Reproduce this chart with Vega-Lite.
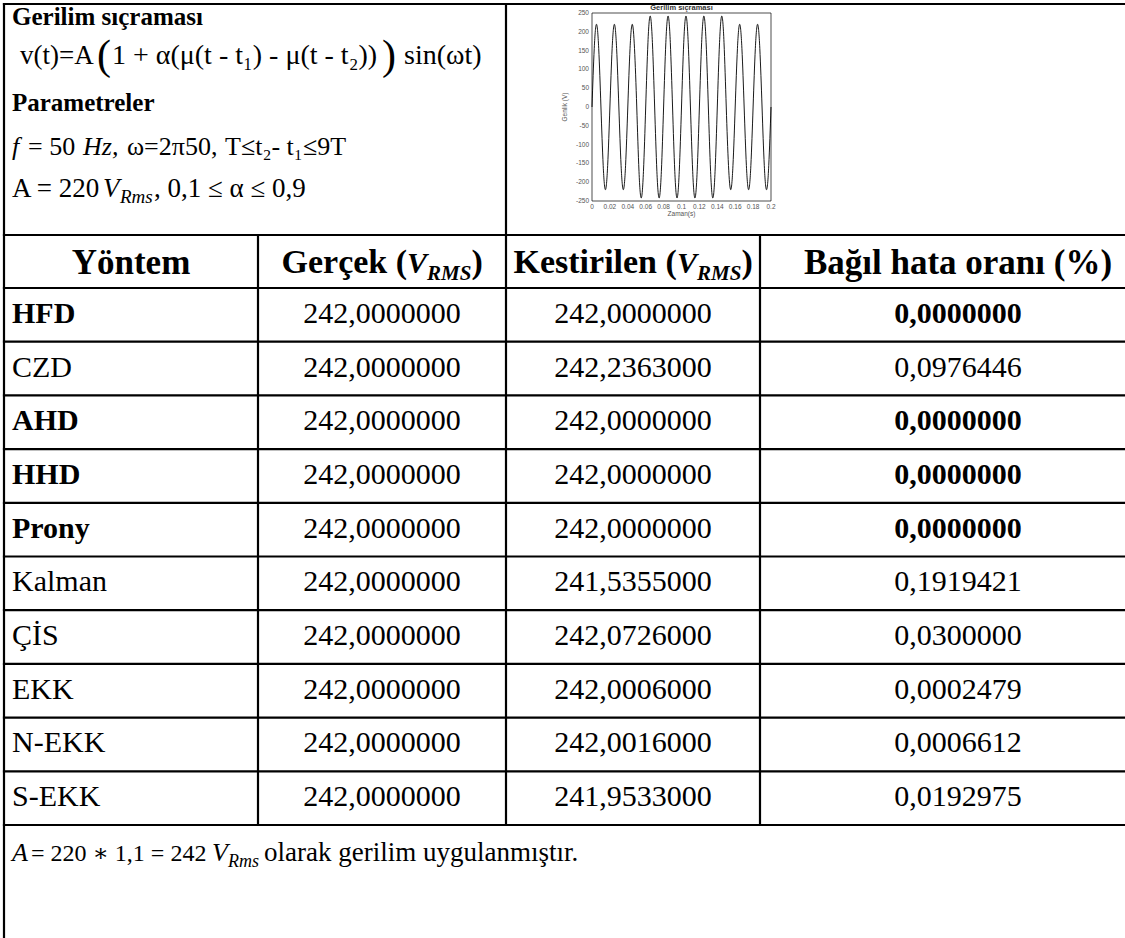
{
  "$schema": "https://vega.github.io/schema/vega-lite/v6.json",
  "width": 1125,
  "height": 938,
  "padding": 0,
  "autosize": {"type": "none"},
  "background": "#ffffff",
  "config": {
    "view": {"stroke": null},
    "axis": {"disable": true},
    "legend": {"disable": true}
  },
  "datasets": {
    "lines": [
      {"x1": 0.5, "x2": 4.5, "y1": -1.5, "y2": -1.5},
      {"x1": 0.5, "x2": 4.5, "y1": -0.5, "y2": -0.5},
      {"x1": 0.5, "x2": 4.5, "y1": 0.5, "y2": 0.5},
      {"x1": 0.5, "x2": 4.5, "y1": 1.5, "y2": 1.5},
      {"x1": 0.5, "x2": 4.5, "y1": 2.5, "y2": 2.5},
      {"x1": 0.5, "x2": 4.5, "y1": 3.5, "y2": 3.5},
      {"x1": 0.5, "x2": 4.5, "y1": 4.5, "y2": 4.5},
      {"x1": 0.5, "x2": 4.5, "y1": 5.5, "y2": 5.5},
      {"x1": 0.5, "x2": 4.5, "y1": 6.5, "y2": 6.5},
      {"x1": 0.5, "x2": 4.5, "y1": 7.5, "y2": 7.5},
      {"x1": 0.5, "x2": 4.5, "y1": 8.5, "y2": 8.5},
      {"x1": 0.5, "x2": 4.5, "y1": 9.5, "y2": 9.5},
      {"x1": 0.5, "x2": 4.5, "y1": 10.5, "y2": 10.5},
      {"x1": 0.5, "x2": 0.5, "y1": -1.5, "y2": 13},
      {"x1": 1.5, "x2": 1.5, "y1": -0.5, "y2": 10.5},
      {"x1": 2.5, "x2": 2.5, "y1": -1.5, "y2": 10.5},
      {"x1": 3.5, "x2": 3.5, "y1": -0.5, "y2": 10.5}
    ],
    "cells": [
      {"row": 1, "col": 1, "text": "HFD", "bold": true},
      {"row": 1, "col": 2, "text": "242,0000000", "bold": false},
      {"row": 1, "col": 3, "text": "242,0000000", "bold": false},
      {"row": 1, "col": 4, "text": "0,0000000", "bold": true},
      {"row": 2, "col": 1, "text": "CZD", "bold": false},
      {"row": 2, "col": 2, "text": "242,0000000", "bold": false},
      {"row": 2, "col": 3, "text": "242,2363000", "bold": false},
      {"row": 2, "col": 4, "text": "0,0976446", "bold": false},
      {"row": 3, "col": 1, "text": "AHD", "bold": true},
      {"row": 3, "col": 2, "text": "242,0000000", "bold": false},
      {"row": 3, "col": 3, "text": "242,0000000", "bold": false},
      {"row": 3, "col": 4, "text": "0,0000000", "bold": true},
      {"row": 4, "col": 1, "text": "HHD", "bold": true},
      {"row": 4, "col": 2, "text": "242,0000000", "bold": false},
      {"row": 4, "col": 3, "text": "242,0000000", "bold": false},
      {"row": 4, "col": 4, "text": "0,0000000", "bold": true},
      {"row": 5, "col": 1, "text": "Prony", "bold": true},
      {"row": 5, "col": 2, "text": "242,0000000", "bold": false},
      {"row": 5, "col": 3, "text": "242,0000000", "bold": false},
      {"row": 5, "col": 4, "text": "0,0000000", "bold": true},
      {"row": 6, "col": 1, "text": "Kalman", "bold": false},
      {"row": 6, "col": 2, "text": "242,0000000", "bold": false},
      {"row": 6, "col": 3, "text": "241,5355000", "bold": false},
      {"row": 6, "col": 4, "text": "0,1919421", "bold": false},
      {"row": 7, "col": 1, "text": "ÇİS", "bold": false},
      {"row": 7, "col": 2, "text": "242,0000000", "bold": false},
      {"row": 7, "col": 3, "text": "242,0726000", "bold": false},
      {"row": 7, "col": 4, "text": "0,0300000", "bold": false},
      {"row": 8, "col": 1, "text": "EKK", "bold": false},
      {"row": 8, "col": 2, "text": "242,0000000", "bold": false},
      {"row": 8, "col": 3, "text": "242,0006000", "bold": false},
      {"row": 8, "col": 4, "text": "0,0002479", "bold": false},
      {"row": 9, "col": 1, "text": "N-EKK", "bold": false},
      {"row": 9, "col": 2, "text": "242,0000000", "bold": false},
      {"row": 9, "col": 3, "text": "242,0016000", "bold": false},
      {"row": 9, "col": 4, "text": "0,0006612", "bold": false},
      {"row": 10, "col": 1, "text": "S-EKK", "bold": false},
      {"row": 10, "col": 2, "text": "242,0000000", "bold": false},
      {"row": 10, "col": 3, "text": "241,9533000", "bold": false},
      {"row": 10, "col": 4, "text": "0,0192975", "bold": false}
    ],
    "header": [
      {"col": 1, "piece": "main", "label": "Yöntem"},
      {"col": 4, "piece": "main", "label": "Bağıl hata oranı (%)"},
      {"col": 2, "piece": "pre", "label": "Gerçek ("},
      {"col": 3, "piece": "pre", "label": "Kestirilen ("},
      {"col": 2, "piece": "v", "label": "V"},
      {"col": 3, "piece": "v", "label": "V"},
      {"col": 2, "piece": "sub", "label": "RMS"},
      {"col": 3, "piece": "sub", "label": "RMS"},
      {"col": 2, "piece": "close", "label": ")"},
      {"col": 3, "piece": "close", "label": ")"}
    ],
    "footer": [
      {"piece": "A", "label": "A"},
      {"piece": "eq", "label": "= 220 ∗ 1,1 = 242"},
      {"piece": "v", "label": "V"},
      {"piece": "sub", "label": "Rms"},
      {"piece": "txt", "label": "olarak gerilim uygulanmıştır."}
    ],
    "topleft": [
      {"line": 1, "piece": "bold", "label": "Gerilim sıçraması"},
      {"line": 2, "piece": "f1", "label": "v(t)=A"},
      {"line": 2, "piece": "big1", "label": "("},
      {"line": 2, "piece": "f2", "label": "1 + α(μ(t - t₁) - μ(t - t₂))"},
      {"line": 2, "piece": "big2", "label": ")"},
      {"line": 2, "piece": "f3", "label": "sin(ωt)"},
      {"line": 3, "piece": "bold", "label": "Parametreler"},
      {"line": 4, "piece": "p1", "label": "f"},
      {"line": 4, "piece": "p2", "label": "= 50"},
      {"line": 4, "piece": "p3", "label": "Hz,"},
      {"line": 4, "piece": "p4", "label": "ω=2π50,"},
      {"line": 4, "piece": "p5", "label": "T≤t₂- t₁≤9T"},
      {"line": 5, "piece": "q1", "label": "A = 220"},
      {"line": 5, "piece": "q2", "label": "V"},
      {"line": 5, "piece": "q3", "label": "Rms"},
      {"line": 5, "piece": "q4", "label": " , 0,1 ≤ α ≤ 0,9"}
    ],
    "wave": [
      {"t": 0, "v": 0}, {"t": 0.0025, "v": 155.56}, {"t": 0.005, "v": 220}, {"t": 0.0075, "v": 155.56},
      {"t": 0.01, "v": 0}, {"t": 0.0125, "v": -155.56}, {"t": 0.015, "v": -220}, {"t": 0.0175, "v": -155.56},
      {"t": 0.02, "v": 0}, {"t": 0.0225, "v": 155.56}, {"t": 0.025, "v": 220}, {"t": 0.0275, "v": 155.56},
      {"t": 0.03, "v": 0}, {"t": 0.0325, "v": -155.56}, {"t": 0.035, "v": -220}, {"t": 0.0375, "v": -155.56},
      {"t": 0.04, "v": 0}, {"t": 0.0425, "v": 155.56}, {"t": 0.045, "v": 220}, {"t": 0.0475, "v": 155.56},
      {"t": 0.05, "v": 0}, {"t": 0.0525, "v": -171.12}, {"t": 0.055, "v": -242}, {"t": 0.0575, "v": -171.12},
      {"t": 0.06, "v": 0}, {"t": 0.0625, "v": 171.12}, {"t": 0.065, "v": 242}, {"t": 0.0675, "v": 171.12},
      {"t": 0.07, "v": 0}, {"t": 0.0725, "v": -171.12}, {"t": 0.075, "v": -242}, {"t": 0.0775, "v": -171.12},
      {"t": 0.08, "v": 0}, {"t": 0.0825, "v": 171.12}, {"t": 0.085, "v": 242}, {"t": 0.0875, "v": 171.12},
      {"t": 0.09, "v": 0}, {"t": 0.0925, "v": -171.12}, {"t": 0.095, "v": -242}, {"t": 0.0975, "v": -171.12},
      {"t": 0.1, "v": 0}, {"t": 0.1025, "v": 171.12}, {"t": 0.105, "v": 242}, {"t": 0.1075, "v": 171.12},
      {"t": 0.11, "v": 0}, {"t": 0.1125, "v": -171.12}, {"t": 0.115, "v": -242}, {"t": 0.1175, "v": -171.12},
      {"t": 0.12, "v": 0}, {"t": 0.1225, "v": 171.12}, {"t": 0.125, "v": 242}, {"t": 0.1275, "v": 171.12},
      {"t": 0.13, "v": 0}, {"t": 0.1325, "v": -171.12}, {"t": 0.135, "v": -242}, {"t": 0.1375, "v": -171.12},
      {"t": 0.14, "v": 0}, {"t": 0.1425, "v": 171.12}, {"t": 0.145, "v": 242}, {"t": 0.1475, "v": 171.12},
      {"t": 0.15, "v": 0}, {"t": 0.1525, "v": -155.56}, {"t": 0.155, "v": -220}, {"t": 0.1575, "v": -155.56},
      {"t": 0.16, "v": 0}, {"t": 0.1625, "v": 155.56}, {"t": 0.165, "v": 220}, {"t": 0.1675, "v": 155.56},
      {"t": 0.17, "v": 0}, {"t": 0.1725, "v": -155.56}, {"t": 0.175, "v": -220}, {"t": 0.1775, "v": -155.56},
      {"t": 0.18, "v": 0}, {"t": 0.1825, "v": 155.56}, {"t": 0.185, "v": 220}, {"t": 0.1875, "v": 155.56},
      {"t": 0.19, "v": 0}, {"t": 0.1925, "v": -155.56}, {"t": 0.195, "v": -220}, {"t": 0.1975, "v": -155.56},
      {"t": 0.2, "v": 0}
    ],
    "frame": [{"t0": 0, "t1": 0.2, "v0": -250, "v1": 250}],
    "xticks": [
      {"t": 0, "label": "0"}, {"t": 0.02, "label": "0.02"}, {"t": 0.04, "label": "0.04"},
      {"t": 0.06, "label": "0.06"}, {"t": 0.08, "label": "0.08"}, {"t": 0.1, "label": "0.1"},
      {"t": 0.12, "label": "0.12"}, {"t": 0.14, "label": "0.14"}, {"t": 0.16, "label": "0.16"},
      {"t": 0.18, "label": "0.18"}, {"t": 0.2, "label": "0.2"}
    ],
    "yticks": [
      {"v": 250, "label": "250"}, {"v": 200, "label": "200"}, {"v": 150, "label": "150"},
      {"v": 100, "label": "100"}, {"v": 50, "label": "50"}, {"v": 0, "label": "0"},
      {"v": -50, "label": "-50"}, {"v": -100, "label": "-100"}, {"v": -150, "label": "-150"},
      {"v": -200, "label": "-200"}, {"v": -250, "label": "-250"}
    ],
    "minitext": [
      {"role": "title", "label": "Gerilim sıçraması"},
      {"role": "xtitle", "label": "Zaman(s)"},
      {"role": "ytitle", "label": "Genlik (V)"}
    ]
  },
  "resolve": {"scale": {"x": "independent", "y": "independent"}},
  "layer": [
    {
      "layer": [
        {
          "data": {"name": "lines"},
          "mark": {"type": "rule", "color": "#000000", "strokeWidth": 2.2, "strokeCap": "square"},
          "encoding": {
            "x": {"field": "x1", "type": "quantitative", "scale": {"domain": [0.5, 1.5, 2.5, 3.5, 4.5], "range": [4, 258, 506, 760, 1156], "nice": false, "zero": false}},
            "x2": {"field": "x2"},
            "y": {"field": "y1", "type": "quantitative", "scale": {"domain": [-1.5, -0.5, 0.5, 10.5, 11.5], "range": [4, 235, 288, 825, 879], "nice": false, "zero": false}},
            "y2": {"field": "y2"}
          }
        },
        {
          "data": {"name": "cells"},
          "transform": [{"filter": "datum.col == 1 && !datum.bold"}],
          "mark": {"type": "text", "font": "Liberation Serif", "color": "#000000", "baseline": "alphabetic", "align": "left", "dx": 8, "dy": 8, "fontSize": 30},
          "encoding": {"x": {"datum": 0.5, "type": "quantitative"}, "y": {"field": "row", "type": "quantitative"}, "text": {"field": "text"}}
        },
        {
          "data": {"name": "cells"},
          "transform": [{"filter": "datum.col == 1 && datum.bold"}],
          "mark": {"type": "text", "font": "Liberation Serif", "color": "#000000", "baseline": "alphabetic", "align": "left", "dx": 8, "dy": 8, "fontSize": 30, "fontWeight": "bold"},
          "encoding": {"x": {"datum": 0.5, "type": "quantitative"}, "y": {"field": "row", "type": "quantitative"}, "text": {"field": "text"}}
        },
        {
          "data": {"name": "cells"},
          "transform": [{"filter": "datum.col > 1 && !datum.bold"}],
          "mark": {"type": "text", "font": "Liberation Serif", "color": "#000000", "baseline": "alphabetic", "align": "center", "dy": 8, "fontSize": 30},
          "encoding": {"x": {"field": "col", "type": "quantitative"}, "y": {"field": "row", "type": "quantitative"}, "text": {"field": "text"}}
        },
        {
          "data": {"name": "cells"},
          "transform": [{"filter": "datum.col > 1 && datum.bold"}],
          "mark": {"type": "text", "font": "Liberation Serif", "color": "#000000", "baseline": "alphabetic", "align": "center", "dy": 8, "fontSize": 30, "fontWeight": "bold"},
          "encoding": {"x": {"field": "col", "type": "quantitative"}, "y": {"field": "row", "type": "quantitative"}, "text": {"field": "text"}}
        },
        {
          "data": {"name": "header"},
          "transform": [{"filter": "datum.piece == 'main'"}],
          "mark": {"type": "text", "font": "Liberation Serif", "color": "#000000", "baseline": "alphabetic", "align": "center", "dy": 12, "fontSize": 35, "fontWeight": "bold"},
          "encoding": {"x": {"field": "col", "type": "quantitative"}, "y": {"datum": 0, "type": "quantitative"}, "text": {"field": "label"}}
        },
        {
          "data": {"name": "header"},
          "transform": [{"filter": "datum.col == 2 && datum.piece == 'pre'"}],
          "mark": {"type": "text", "font": "Liberation Serif", "color": "#000000", "baseline": "alphabetic", "align": "left", "dx": -100.5, "dy": 11, "fontSize": 34, "fontWeight": "bold"},
          "encoding": {"x": {"field": "col", "type": "quantitative"}, "y": {"datum": 0, "type": "quantitative"}, "text": {"field": "label"}}
        },
        {
          "data": {"name": "header"},
          "transform": [{"filter": "datum.col == 2 && datum.piece == 'v'"}],
          "mark": {"type": "text", "font": "Liberation Serif", "color": "#000000", "baseline": "alphabetic", "align": "left", "dx": 25, "dy": 11, "fontSize": 30, "fontWeight": "bold", "fontStyle": "italic"},
          "encoding": {"x": {"field": "col", "type": "quantitative"}, "y": {"datum": 0, "type": "quantitative"}, "text": {"field": "label"}}
        },
        {
          "data": {"name": "header"},
          "transform": [{"filter": "datum.col == 2 && datum.piece == 'sub'"}],
          "mark": {"type": "text", "font": "Liberation Serif", "color": "#000000", "baseline": "alphabetic", "align": "left", "dx": 45, "dy": 18, "fontSize": 21, "fontWeight": "bold", "fontStyle": "italic"},
          "encoding": {"x": {"field": "col", "type": "quantitative"}, "y": {"datum": 0, "type": "quantitative"}, "text": {"field": "label"}}
        },
        {
          "data": {"name": "header"},
          "transform": [{"filter": "datum.col == 2 && datum.piece == 'close'"}],
          "mark": {"type": "text", "font": "Liberation Serif", "color": "#000000", "baseline": "alphabetic", "align": "left", "dx": 89.5, "dy": 11, "fontSize": 34, "fontWeight": "bold"},
          "encoding": {"x": {"field": "col", "type": "quantitative"}, "y": {"datum": 0, "type": "quantitative"}, "text": {"field": "label"}}
        },
        {
          "data": {"name": "header"},
          "transform": [{"filter": "datum.col == 3 && datum.piece == 'pre'"}],
          "mark": {"type": "text", "font": "Liberation Serif", "color": "#000000", "baseline": "alphabetic", "align": "left", "dx": -119.5, "dy": 11, "fontSize": 34, "fontWeight": "bold"},
          "encoding": {"x": {"field": "col", "type": "quantitative"}, "y": {"datum": 0, "type": "quantitative"}, "text": {"field": "label"}}
        },
        {
          "data": {"name": "header"},
          "transform": [{"filter": "datum.col == 3 && datum.piece == 'v'"}],
          "mark": {"type": "text", "font": "Liberation Serif", "color": "#000000", "baseline": "alphabetic", "align": "left", "dx": 44, "dy": 11, "fontSize": 30, "fontWeight": "bold", "fontStyle": "italic"},
          "encoding": {"x": {"field": "col", "type": "quantitative"}, "y": {"datum": 0, "type": "quantitative"}, "text": {"field": "label"}}
        },
        {
          "data": {"name": "header"},
          "transform": [{"filter": "datum.col == 3 && datum.piece == 'sub'"}],
          "mark": {"type": "text", "font": "Liberation Serif", "color": "#000000", "baseline": "alphabetic", "align": "left", "dx": 64, "dy": 18, "fontSize": 21, "fontWeight": "bold", "fontStyle": "italic"},
          "encoding": {"x": {"field": "col", "type": "quantitative"}, "y": {"datum": 0, "type": "quantitative"}, "text": {"field": "label"}}
        },
        {
          "data": {"name": "header"},
          "transform": [{"filter": "datum.col == 3 && datum.piece == 'close'"}],
          "mark": {"type": "text", "font": "Liberation Serif", "color": "#000000", "baseline": "alphabetic", "align": "left", "dx": 108.5, "dy": 11, "fontSize": 34, "fontWeight": "bold"},
          "encoding": {"x": {"field": "col", "type": "quantitative"}, "y": {"datum": 0, "type": "quantitative"}, "text": {"field": "label"}}
        },
        {
          "data": {"name": "footer"},
          "transform": [{"filter": "datum.piece == 'A'"}],
          "mark": {"type": "text", "font": "Liberation Serif", "color": "#000000", "baseline": "alphabetic", "align": "left", "dx": 8, "dy": 9, "fontSize": 26, "fontStyle": "italic"},
          "encoding": {"x": {"datum": 0.5, "type": "quantitative"}, "y": {"datum": 11, "type": "quantitative"}, "text": {"field": "label"}}
        },
        {
          "data": {"name": "footer"},
          "transform": [{"filter": "datum.piece == 'eq'"}],
          "mark": {"type": "text", "font": "Liberation Serif, DejaVu Serif", "color": "#000000", "baseline": "alphabetic", "align": "left", "dx": 27, "dy": 9, "fontSize": 24},
          "encoding": {"x": {"datum": 0.5, "type": "quantitative"}, "y": {"datum": 11, "type": "quantitative"}, "text": {"field": "label"}}
        },
        {
          "data": {"name": "footer"},
          "transform": [{"filter": "datum.piece == 'v'"}],
          "mark": {"type": "text", "font": "Liberation Serif", "color": "#000000", "baseline": "alphabetic", "align": "left", "dx": 208, "dy": 9, "fontSize": 26, "fontStyle": "italic"},
          "encoding": {"x": {"datum": 0.5, "type": "quantitative"}, "y": {"datum": 11, "type": "quantitative"}, "text": {"field": "label"}}
        },
        {
          "data": {"name": "footer"},
          "transform": [{"filter": "datum.piece == 'sub'"}],
          "mark": {"type": "text", "font": "Liberation Serif", "color": "#000000", "baseline": "alphabetic", "align": "left", "dx": 224, "dy": 15, "fontSize": 18, "fontStyle": "italic"},
          "encoding": {"x": {"datum": 0.5, "type": "quantitative"}, "y": {"datum": 11, "type": "quantitative"}, "text": {"field": "label"}}
        },
        {
          "data": {"name": "footer"},
          "transform": [{"filter": "datum.piece == 'txt'"}],
          "mark": {"type": "text", "font": "Liberation Serif", "color": "#000000", "baseline": "alphabetic", "align": "left", "dx": 260, "dy": 9, "fontSize": 27},
          "encoding": {"x": {"datum": 0.5, "type": "quantitative"}, "y": {"datum": 11, "type": "quantitative"}, "text": {"field": "label"}}
        }
      ]
    },
    {
      "data": {"name": "topleft"},
      "encoding": {
        "x": {"datum": 0, "type": "quantitative", "scale": {"domain": [0, 1], "range": [4, 1125], "nice": false, "zero": false}},
        "y": {"field": "line", "type": "ordinal", "scale": {"type": "point", "domain": [1, 2, 3, 4, 5], "range": [26, 197], "padding": 0}},
        "text": {"field": "label"}
      },
      "layer": [
        {"transform": [{"filter": "datum.piece == 'bold'"}], "mark": {"type": "text", "font": "Liberation Serif", "color": "#000000", "baseline": "alphabetic", "align": "left", "dx": 8, "dy": -1, "fontSize": 25, "fontWeight": "bold"}},
        {"transform": [{"filter": "datum.piece == 'f1'"}], "mark": {"type": "text", "font": "Liberation Serif", "color": "#000000", "baseline": "alphabetic", "align": "left", "dx": 16, "dy": -4.75, "fontSize": 27}},
        {"transform": [{"filter": "datum.piece == 'big1'"}], "mark": {"type": "text", "font": "Liberation Serif", "color": "#000000", "baseline": "alphabetic", "align": "left", "dx": 93, "dy": 0, "fontSize": 42}},
        {"transform": [{"filter": "datum.piece == 'f2'"}], "mark": {"type": "text", "font": "Liberation Serif", "color": "#000000", "baseline": "alphabetic", "align": "left", "dx": 108, "dy": -4.75, "fontSize": 28}},
        {"transform": [{"filter": "datum.piece == 'big2'"}], "mark": {"type": "text", "font": "Liberation Serif", "color": "#000000", "baseline": "alphabetic", "align": "left", "dx": 378, "dy": 0, "fontSize": 42}},
        {"transform": [{"filter": "datum.piece == 'f3'"}], "mark": {"type": "text", "font": "Liberation Serif", "color": "#000000", "baseline": "alphabetic", "align": "left", "dx": 400, "dy": -4.75, "fontSize": 28}},
        {"transform": [{"filter": "datum.piece == 'p1'"}], "mark": {"type": "text", "font": "Liberation Serif", "color": "#000000", "baseline": "alphabetic", "align": "left", "dx": 8, "dy": 0.75, "fontSize": 26, "fontStyle": "italic"}},
        {"transform": [{"filter": "datum.piece == 'p2'"}], "mark": {"type": "text", "font": "Liberation Serif", "color": "#000000", "baseline": "alphabetic", "align": "left", "dx": 24, "dy": 0.75, "fontSize": 26}},
        {"transform": [{"filter": "datum.piece == 'p3'"}], "mark": {"type": "text", "font": "Liberation Serif", "color": "#000000", "baseline": "alphabetic", "align": "left", "dx": 79, "dy": 0.75, "fontSize": 26, "fontStyle": "italic"}},
        {"transform": [{"filter": "datum.piece == 'p4'"}], "mark": {"type": "text", "font": "Liberation Serif", "color": "#000000", "baseline": "alphabetic", "align": "left", "dx": 123, "dy": 0.75, "fontSize": 26}},
        {"transform": [{"filter": "datum.piece == 'p5'"}], "mark": {"type": "text", "font": "Liberation Serif", "color": "#000000", "baseline": "alphabetic", "align": "left", "dx": 221, "dy": 0.75, "fontSize": 26}},
        {"transform": [{"filter": "datum.piece == 'q1'"}], "mark": {"type": "text", "font": "Liberation Serif", "color": "#000000", "baseline": "alphabetic", "align": "left", "dx": 8, "dy": 0, "fontSize": 27}},
        {"transform": [{"filter": "datum.piece == 'q2'"}], "mark": {"type": "text", "font": "Liberation Serif", "color": "#000000", "baseline": "alphabetic", "align": "left", "dx": 99, "dy": 0, "fontSize": 27, "fontStyle": "italic"}},
        {"transform": [{"filter": "datum.piece == 'q3'"}], "mark": {"type": "text", "font": "Liberation Serif", "color": "#000000", "baseline": "alphabetic", "align": "left", "dx": 116, "dy": 6, "fontSize": 19, "fontStyle": "italic"}},
        {"transform": [{"filter": "datum.piece == 'q4'"}], "mark": {"type": "text", "font": "Liberation Serif", "color": "#000000", "baseline": "alphabetic", "align": "left", "dx": 150, "dy": 0, "fontSize": 27}}
      ]
    },
    {
      "layer": [
        {
          "data": {"name": "frame"},
          "mark": {"type": "rect", "fillOpacity": 0, "stroke": "#000000", "strokeWidth": 0.7},
          "encoding": {
            "x": {"field": "t0", "type": "quantitative", "scale": {"domain": [0, 0.2], "range": [592, 771], "nice": false, "zero": false}},
            "x2": {"field": "t1"},
            "y": {"field": "v0", "type": "quantitative", "scale": {"domain": [-250, 250], "range": [201, 13], "nice": false, "zero": false}},
            "y2": {"field": "v1"}
          }
        },
        {
          "data": {"name": "wave"},
          "mark": {"type": "line", "color": "#000000", "strokeWidth": 0.9, "interpolate": "natural"},
          "encoding": {"x": {"field": "t", "type": "quantitative"}, "y": {"field": "v", "type": "quantitative"}}
        },
        {
          "data": {"name": "xticks"},
          "mark": {"type": "text", "font": "Liberation Sans", "fontSize": 6.5, "color": "#555555", "align": "center", "baseline": "top", "dy": 2.5},
          "encoding": {"x": {"field": "t", "type": "quantitative"}, "y": {"datum": -250, "type": "quantitative"}, "text": {"field": "label"}}
        },
        {
          "data": {"name": "yticks"},
          "mark": {"type": "text", "font": "Liberation Sans", "fontSize": 6.5, "color": "#555555", "align": "right", "baseline": "middle", "dx": -3},
          "encoding": {"x": {"datum": 0, "type": "quantitative"}, "y": {"field": "v", "type": "quantitative"}, "text": {"field": "label"}}
        },
        {
          "data": {"name": "minitext"},
          "transform": [{"filter": "datum.role == 'title'"}],
          "mark": {"type": "text", "font": "Liberation Sans", "fontSize": 7.5, "fontWeight": "bold", "color": "#333333", "align": "center", "baseline": "bottom", "dy": -1.5},
          "encoding": {"x": {"datum": 0.1, "type": "quantitative"}, "y": {"datum": 250, "type": "quantitative"}, "text": {"field": "label"}}
        },
        {
          "data": {"name": "minitext"},
          "transform": [{"filter": "datum.role == 'xtitle'"}],
          "mark": {"type": "text", "font": "Liberation Sans", "fontSize": 6.5, "color": "#555555", "align": "center", "baseline": "top", "dy": 10},
          "encoding": {"x": {"datum": 0.1, "type": "quantitative"}, "y": {"datum": -250, "type": "quantitative"}, "text": {"field": "label"}}
        },
        {
          "data": {"name": "minitext"},
          "transform": [{"filter": "datum.role == 'ytitle'"}],
          "mark": {"type": "text", "font": "Liberation Sans", "fontSize": 6.5, "color": "#555555", "align": "center", "baseline": "bottom", "angle": 270, "dy": -24},
          "encoding": {"x": {"datum": 0, "type": "quantitative"}, "y": {"datum": 0, "type": "quantitative"}, "text": {"field": "label"}}
        }
      ]
    }
  ]
}
